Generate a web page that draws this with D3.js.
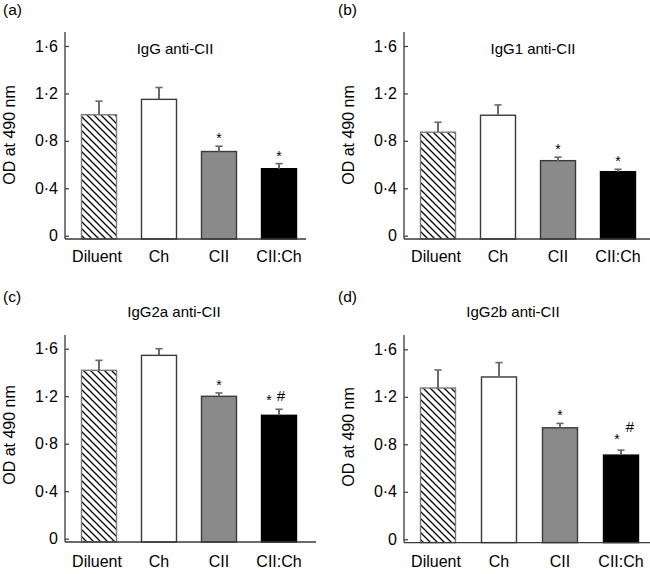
<!DOCTYPE html>
<html><head><meta charset="utf-8">
<script src="https://cdn.jsdelivr.net/npm/d3@7"></script>
<style>
body{margin:0;background:#fff}
svg{display:block;font-family:"Liberation Sans",Arial,Helvetica,sans-serif}
</style>
</head><body><svg id="chart" width="650" height="574"></svg>
<script>
// ---- data ----
const categories = ["Diluent", "Ch", "CII", "CII:Ch"];
const panelLetters = ["(a)", "(b)", "(c)", "(d)"];
const panelTitles = ["IgG anti-CII", "IgG1 anti-CII", "IgG2a anti-CII", "IgG2b anti-CII"];
const yTicks = [0, 0.4, 0.8, 1.2, 1.6];
const yTickLabels = ["0", "0·4", "0·8", "1·2", "1·6"];
const yLabel = "OD at 490 nm";

const meansA = [1.02, 1.15, 0.71, 0.565];
const errorsA = [0.115, 0.10, 0.045, 0.043];
const meansB = [0.873, 1.016, 0.633, 0.54];
const errorsB = [0.084, 0.087, 0.029, 0.02];
const meansC = [1.418, 1.544, 1.199, 1.039];
const errorsC = [0.084, 0.056, 0.028, 0.051];
const meansD = [1.274, 1.367, 0.939, 0.709];
const errorsD = [0.152, 0.121, 0.037, 0.042];

const starsA = ["", "", "*", "*"];
const starsB = ["", "", "*", "*"];
const starsC = ["", "", "*", "*"];
const starsD = ["", "", "*", "*"];
const hashA = ["", "", "", ""];
const hashB = ["", "", "", ""];
const hashC = ["", "", "", "#"];
const hashD = ["", "", "", "#"];

// ---- layout / style ----
const panels = [
  {means: meansA, errs: errorsA, stars: starsA, hash: hashA,
   ax: 65, yBottom: 235.7, yTop: 46, axisTop: 32, xEnd: 306, step: 60,
   titleX: 175, titleY: 54, labY: 262, ylX: 9, ylY: 135, letX: 3, letY: 15,
   starDx: 0, starDy: 0, hashDx: 0, hashDy: 0},
  {means: meansB, errs: errorsB, stars: starsB, hash: hashB,
   ax: 404, yBottom: 235.7, yTop: 46, axisTop: 32, xEnd: 650, step: 60,
   titleX: 533, titleY: 54, labY: 262, ylX: 347.5, ylY: 135, letX: 338, letY: 15,
   starDx: 0, starDy: 0, hashDx: 0, hashDy: 0},
  {means: meansC, errs: errorsC, stars: starsC, hash: hashC,
   ax: 65, yBottom: 538.7, yTop: 348.7, axisTop: 335, xEnd: 316, step: 60,
   titleX: 174, titleY: 317, labY: 567, ylX: 9, ylY: 435, letX: 3, letY: 302,
   starDx: -10, starDy: -1, hashDx: 2, hashDy: -8},
  {means: meansD, errs: errorsD, stars: starsD, hash: hashD,
   ax: 404, yBottom: 539.3, yTop: 349.3, axisTop: 335, xEnd: 650, step: 61,
   titleX: 513, titleY: 317, labY: 567, ylX: 347.5, ylY: 437, letX: 338, letY: 302,
   starDx: -4, starDy: -3, hashDx: 9, hashDy: -18}
];

const fills = ["url(#hatch)", "#ffffff", "#8a8a8a", "#000000"];
const outlines = ["#7a7a7a", "#3a3a3a", "#3a3a3a", "#000000"];
const axisColor = "#3a3a3a";
const errColor = "#6a6a6a";

const svg = d3.select("#chart");
const defs = svg.append("defs");
const pat = defs.append("pattern").attr("id", "hatch")
  .attr("patternUnits", "userSpaceOnUse").attr("width", 7).attr("height", 7);
pat.append("rect").attr("width", 7).attr("height", 7).attr("fill", "#fff");
pat.append("path").attr("d", "M-1,-1L8,8M-1,6L1,8M6,-1L8,1")
  .attr("stroke", "#000").attr("stroke-width", 1.3);

panels.forEach((p, i) => {
  const g = svg.append("g");
  const y = d3.scaleLinear().domain([0, 1.6]).range([p.yBottom, p.yTop]);
  const xAxisY = p.yBottom + 3.3;
  const bw = 35;
  const pin = (p.step - bw) / p.step;
  const x = d3.scaleBand().domain(categories)
    .range([p.ax + 16.5, p.ax + 16.5 + p.step * (categories.length - pin)])
    .paddingInner(pin).paddingOuter(0);

  categories.forEach((c, j) => {
    const top = y(p.means[j]);
    g.append("rect")
      .attr("x", x(c)).attr("y", top)
      .attr("width", x.bandwidth()).attr("height", xAxisY - top)
      .attr("fill", fills[j]).attr("stroke", outlines[j]).attr("stroke-width", 1.4);
    const cx = x(c) + x.bandwidth() / 2;
    const et = y(p.means[j] + p.errs[j]);
    g.append("line").attr("x1", cx).attr("x2", cx).attr("y1", top).attr("y2", et)
      .attr("stroke", errColor).attr("stroke-width", 2);
    g.append("line").attr("x1", cx - 3.6).attr("x2", cx + 3.6).attr("y1", et).attr("y2", et)
      .attr("stroke", errColor).attr("stroke-width", 1.6);
    if (p.stars[j]) {
      const dx = p.hash[j] ? p.starDx : 0;
      const dy = p.hash[j] ? p.starDy : 0;
      g.append("text").attr("x", cx + dx).attr("y", et - 3 + dy)
        .attr("text-anchor", "middle").attr("font-size", 14).text(p.stars[j]);
    }
    if (p.hash[j]) {
      g.append("text").attr("x", cx + p.hashDx).attr("y", et + p.hashDy)
        .attr("text-anchor", "middle").attr("font-size", 15).text(p.hash[j]);
    }
  });

  const yAxis = d3.axisLeft(y).tickValues(yTicks)
    .tickFormat((d, k) => yTickLabels[k]).tickSizeInner(-4).tickSizeOuter(0).tickPadding(7);
  const ya = g.append("g").attr("transform", `translate(${p.ax},0)`).call(yAxis);
  ya.select(".domain").remove();
  ya.selectAll(".tick line").attr("stroke", axisColor).attr("stroke-width", 1.2);
  ya.selectAll(".tick text").attr("font-size", 16).attr("fill", "#000")
    .attr("font-family", "Liberation Sans, Arial, sans-serif");
  g.append("line").attr("x1", p.ax).attr("x2", p.ax).attr("y1", p.axisTop).attr("y2", xAxisY)
    .attr("stroke", axisColor).attr("stroke-width", 1.3);
  g.append("line").attr("x1", p.ax).attr("x2", p.xEnd).attr("y1", xAxisY).attr("y2", xAxisY)
    .attr("stroke", axisColor).attr("stroke-width", 1.3);
  categories.forEach((c, j) => {
    g.append("text").attr("x", x(c) + x.bandwidth() / 2 - (j === 0 ? 2 : 0)).attr("y", p.labY)
      .attr("text-anchor", "middle").attr("font-size", 16).text(c);
  });

  g.append("text").attr("x", p.titleX).attr("y", p.titleY).attr("text-anchor", "middle")
    .attr("font-size", 15).text(panelTitles[i]);
  g.append("text").attr("transform", `translate(${p.ylX + 6},${p.ylY}) rotate(-90)`)
    .attr("text-anchor", "middle").attr("font-size", 16).text(yLabel);
  g.append("text").attr("x", p.letX).attr("y", p.letY).attr("font-size", 15.5).text(panelLetters[i]);
});
</script>
</body></html>
